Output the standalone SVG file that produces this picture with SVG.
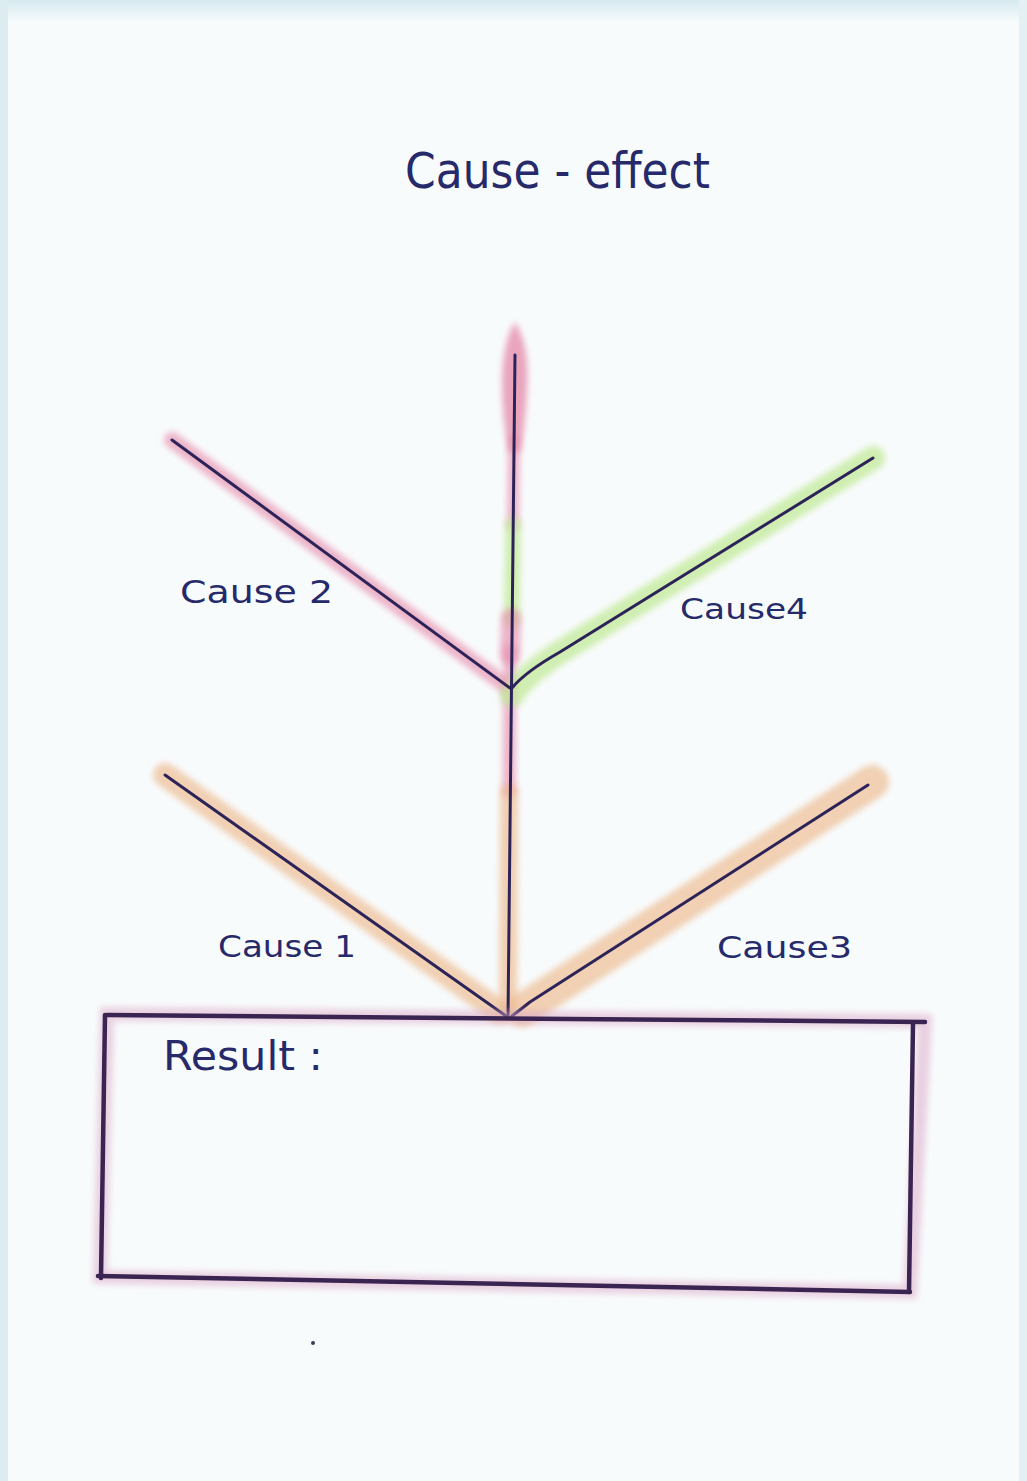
<svg xmlns="http://www.w3.org/2000/svg" width="1027" height="1481" viewBox="0 0 1027 1481">
<defs>
<filter id="soft" filterUnits="userSpaceOnUse" x="0" y="0" width="1027" height="1481"><feGaussianBlur stdDeviation="3"/></filter>
<linearGradient id="topedge" x1="0" y1="0" x2="0" y2="1"><stop offset="0" stop-color="#d6eaf0"/><stop offset="1" stop-color="#f6fbfc"/></linearGradient>
</defs>
<style>
.ink{fill:none;stroke:#2c2358;stroke-width:3;stroke-linecap:round;stroke-linejoin:round}
.box{fill:none;stroke:#3a2452;stroke-width:4.5;stroke-linecap:round}
.pink{fill:none;stroke:#e68fae;stroke-opacity:.65;stroke-linecap:round;filter:url(#soft)}
.pinkfill{fill:#e68fae;fill-opacity:.8;filter:url(#soft)}
.green{fill:none;stroke:#c2ea98;stroke-opacity:.75;stroke-linecap:round;filter:url(#soft)}
.orange{fill:none;stroke:#ecb88c;stroke-opacity:.65;stroke-linecap:round;filter:url(#soft)}
.boxglow{fill:none;stroke:#d9a6c6;stroke-opacity:.5;stroke-width:14;filter:url(#soft)}
.lbl{font-family:"DejaVu Sans","Liberation Sans",sans-serif;fill:#262a6a}
</style>
<rect width="1027" height="1481" fill="#f8fbfc"/>
<rect width="1027" height="22" fill="url(#topedge)"/>
<rect width="8" height="1481" fill="#dcecf0"/>
<rect x="1019" width="8" height="1481" fill="#e4f0f3"/>

<g id="title"><text class="lbl" x="405" y="188" font-size="50" textLength="305" lengthAdjust="spacingAndGlyphs">Cause - effect</text></g>

<g id="connectors">
  <path class="pinkfill" d="M515 322 Q530 345 527 390 Q525 430 520 452 L509 452 Q502 420 502 380 Q503 340 515 322 Z"/>
  <path class="pink" d="M514 440 L513 525" stroke-width="12"/>
  <path class="green" d="M513 525 L512 620" stroke-width="16"/>
  <path class="pink" d="M511 618 L510 655" stroke-width="20"/>
  <path class="pink" d="M510 650 L509 792" stroke-width="13"/>
  <path class="orange" d="M509 792 L508 1005" stroke-width="18"/>
  <path class="pink" d="M172 440 L505 685" stroke-width="16"/>
  <path class="green" d="M873 458 L560 652 Q525 675 512 695" stroke-width="24"/>
  <path class="orange" d="M165 775 L500 1012" stroke-width="24"/>
  <path class="orange" d="M872 782 L522 1010" stroke-width="34"/>
  <path id="trunk" class="ink" d="M515 355 L508 1018"/>
  <path id="c2" class="ink" d="M172 440 L510 688"/>
  <path id="c4" class="ink" d="M873 458 L560 652 Q525 672 512 688"/>
  <path id="c1" class="ink" d="M165 775 L506 1016"/>
  <path id="c3" class="ink" d="M868 785 L530 1002 Q520 1010 512 1016"/>
</g>

<g id="cause1"><text class="lbl" x="218" y="957" font-size="30" textLength="138" lengthAdjust="spacingAndGlyphs">Cause 1</text></g>
<g id="cause2"><text class="lbl" x="180" y="603" font-size="32" textLength="153" lengthAdjust="spacingAndGlyphs">Cause 2</text></g>
<g id="cause3"><text class="lbl" x="717" y="958" font-size="30" textLength="135" lengthAdjust="spacingAndGlyphs">Cause3</text></g>
<g id="cause4"><text class="lbl" x="680" y="619" font-size="28" textLength="128" lengthAdjust="spacingAndGlyphs">Cause4</text></g>

<g id="result">
  <path class="boxglow" d="M107 1014 L925 1021 L910 1292 L100 1277 Z"/>
  <path class="box" d="M107 1015 L925 1022"/>
  <path class="box" d="M105 1015 L101 1278"/>
  <path class="box" d="M98 1276 L910 1292"/>
  <path class="box" d="M913 1024 L909 1292"/>
  <text class="lbl" x="163" y="1070" font-size="40" textLength="160" lengthAdjust="spacingAndGlyphs">Result :</text>
</g>
<circle cx="313" cy="1343" r="2" fill="#3a3a5a"/>
</svg>
